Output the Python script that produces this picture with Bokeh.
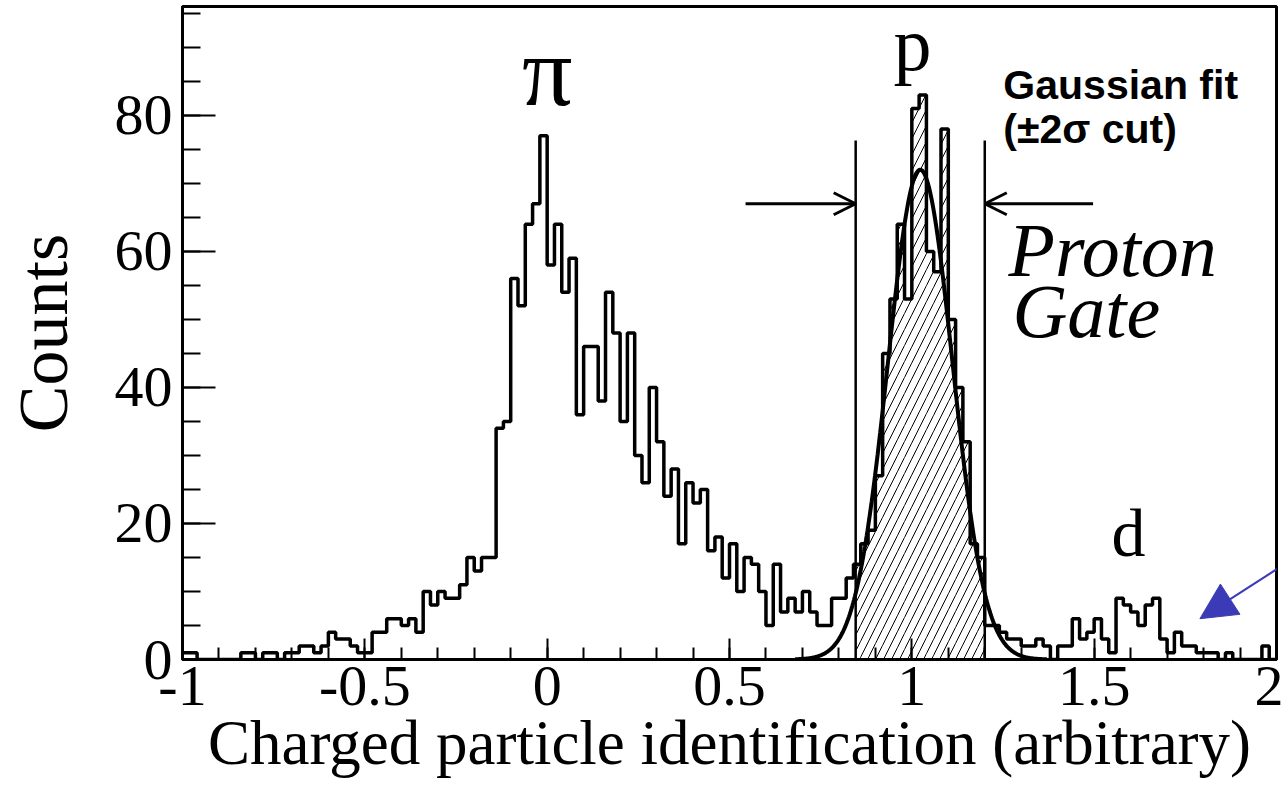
import numpy as np
from bokeh.plotting import figure
from bokeh.models import Range1d, Label, Arrow, OpenHead, NormalHead, FixedTicker
from bokeh.embed import file_html
from bokeh.resources import INLINE

# ---------------- data ----------------
x_min, x_max = -1.0, 2.0
y_max = 96
bin_width = 0.02
counts = [
    1, 1, 0, 0, 0, 0, 0, 0, 1, 1, 0, 1, 1, 0, 1, 1,
    2, 2, 1, 2, 4, 3, 3, 2, 1, 1, 4, 4, 6, 6, 5, 6, 4,
    10, 8, 10, 9, 9, 11, 15, 13, 15, 15, 34, 35, 56, 52, 64, 67, 77,
    58, 64, 54, 59, 36, 46, 46, 38, 54, 48,
    35, 48, 30, 26, 40, 32, 24, 28, 17, 26, 23, 25, 16, 18, 12, 17, 10, 15, 14, 10,
    5, 14, 7, 9, 7, 10, 7, 5, 5, 9, 9, 12,
    14, 17, 19, 27, 45, 53, 64, 53, 81, 83, 60, 57, 78, 50, 40, 32, 17, 15,
    5, 5, 4, 3, 3, 2, 2, 3, 2, 0, 2, 2, 6, 3, 4, 6, 3, 1, 9, 8,
    7, 5, 8, 9, 3, 1, 4, 2, 2, 1, 1, 1, 0, 1, 0, 0, 0, 0, 2, 0,
]
gate_lo, gate_hi = 0.846, 1.200
fit_amp, fit_mean, fit_sigma = 72.0, 1.023, 0.0885
fit_range = (0.68, 1.37)
x_ticks = [-1, -0.5, 0, 0.5, 1, 1.5, 2]
x_tick_labels = ["-1", "-0.5", "0", "0.5", "1", "1.5", "2"]
y_ticks = [0, 20, 40, 60, 80]
arrow_y = 67.0
left_arrow_x = (0.544, gate_lo)
right_arrow_x = (1.497, gate_hi)
gate_top = 76.3
blue_arrow = ((2.03, 14.3), (1.79, 6.0))

edges = [x_min + i * bin_width for i in range(len(counts) + 1)]

# ---------------- figure ----------------
p = figure(width=1283, height=788, x_range=Range1d(x_min, x_max), y_range=Range1d(0, y_max),
           output_backend="svg", toolbar_location=None,
           min_border_left=182, min_border_right=7, min_border_top=6, min_border_bottom=129)
p.background_fill_color = "white"
p.border_fill_color = "white"
p.outline_line_color = "black"
p.outline_line_width = 3
p.xgrid.visible = False
p.ygrid.visible = False

SERIF = "Liberation Serif"

xa = p.xaxis[0]
xa.ticker = FixedTicker(ticks=x_ticks, minor_ticks=[round(-1 + 0.1 * i, 2) for i in range(31)])
xa.major_label_overrides = {t: l for t, l in zip(x_ticks, x_tick_labels)}
xa.major_tick_in = 21
xa.major_tick_out = 0
xa.minor_tick_in = 12
xa.minor_tick_out = 0
xa.major_tick_line_width = 2
xa.minor_tick_line_width = 2
xa.axis_line_width = 3
xa.major_label_text_font = SERIF
xa.major_label_text_font_size = "58px"
xa.major_label_text_color = "black"
xa.major_label_standoff = 7
xa.axis_label = "Charged particle identification (arbitrary)"
xa.axis_label_text_font = SERIF
xa.axis_label_text_font_size = "63px"
xa.axis_label_text_font_style = "normal"
xa.axis_label_text_color = "black"
xa.axis_label_standoff = 0

ya = p.yaxis[0]
ya.ticker = FixedTicker(ticks=y_ticks, minor_ticks=list(range(0, 96, 5)))
ya.major_tick_in = 33
ya.major_tick_out = 0
ya.minor_tick_in = 18
ya.minor_tick_out = 0
ya.major_tick_line_width = 2
ya.minor_tick_line_width = 2
ya.axis_line_width = 3
ya.major_label_text_font = SERIF
ya.major_label_text_font_size = "58px"
ya.major_label_text_color = "black"
ya.major_label_standoff = 10
ya.axis_label = "Counts"
ya.axis_label_text_font = SERIF
ya.axis_label_text_font_size = "70px"
ya.axis_label_text_font_style = "normal"
ya.axis_label_text_color = "black"
ya.axis_label_standoff = 30

# hatched proton gate region (under the histogram)
ql, qr, qt = [], [], []
for i, c in enumerate(counts):
    l, r = max(edges[i], gate_lo), min(edges[i + 1], gate_hi)
    if r > l:
        ql.append(l); qr.append(r); qt.append(c)
p.quad(left=ql, right=qr, bottom=0, top=qt, fill_alpha=0, line_alpha=0,
       hatch_pattern="/", hatch_color="black", hatch_weight=1, hatch_scale=16)

# histogram outline
p.step(x=edges, y=counts + [counts[-1]], mode="after", line_color="black", line_width=3.5)

# gaussian fit
xf = np.linspace(fit_range[0], fit_range[1], 300)
yf = fit_amp * np.exp(-0.5 * ((xf - fit_mean) / fit_sigma) ** 2)
p.line(xf, yf, line_color="black", line_width=4)

# gate lines
p.segment(x0=[gate_lo, gate_hi], y0=[0, 0], x1=[gate_lo, gate_hi], y1=[gate_top, gate_top],
          line_color="black", line_width=2.5)

# arrows
for xs, xe in (left_arrow_x, right_arrow_x):
    p.add_layout(Arrow(end=OpenHead(size=22, line_width=3, line_color="black"),
                       x_start=xs, y_start=arrow_y, x_end=xe, y_end=arrow_y,
                       line_width=3, line_color="black"))

(bx0, by0), (bx1, by1) = blue_arrow
p.add_layout(Arrow(end=NormalHead(size=36, fill_color="#3b3bb8", line_color="#3b3bb8"),
                   x_start=bx0, y_start=by0, x_end=bx1, y_end=by1,
                   line_width=2, line_color="#3b3bb8"))

# labels
def lab(x, y, text, font=SERIF, size="70px", style="normal", align="center"):
    p.add_layout(Label(x=x, y=y, text=text, text_font=font, text_font_size=size,
                       text_font_style=style, text_align=align, text_baseline="alphabetic",
                       text_color="black"))

lab(0.0, 86.4, "π", size="100px")
lab(1.002, 90.5, "p", size="76px")
lab(1.594, 18.6, "d", size="68px")
lab(1.251, 84.5, "Gaussian fit", font="Liberation Sans", size="41px", style="bold", align="left")
lab(1.251, 78.0, "(±2σ cut)", font="Liberation Sans", size="41px", style="bold", align="left")
lab(1.265, 60.2, "Proton", size="76px", style="italic", align="left")
lab(1.276, 51.3, "Gate", size="76px", style="italic", align="left")

open("out.html", "w").write(file_html(p, INLINE))
